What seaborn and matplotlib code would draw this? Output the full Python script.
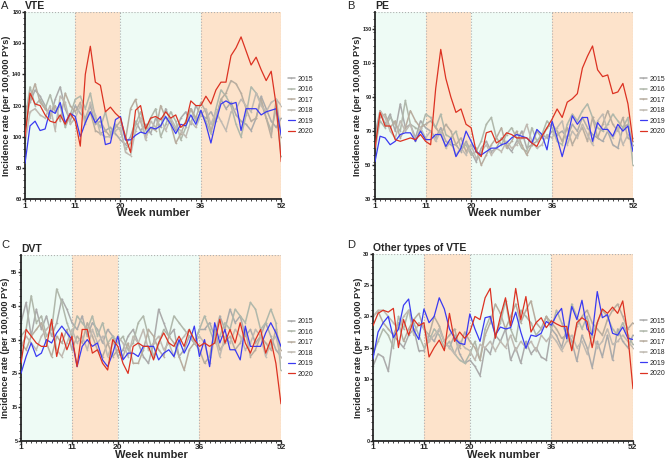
import numpy as np
import pandas as pd
import seaborn as sns
import matplotlib.pyplot as plt
from matplotlib.ticker import MultipleLocator

weeks = list(range(1, 53))
years = ['2015', '2016', '2017', '2018', '2019', '2020']
x_ticks = [1, 11, 20, 36, 52]

# Panel A - VTE
vte = {
    '2015': [118, 122, 130, 126, 120, 112, 124, 132, 118, 110, 120, 115, 112, 120, 108, 110, 104, 106, 102, 98,
             95, 100, 110, 104, 108, 102, 112, 106, 118, 110, 104, 112, 116, 108, 120, 114,
             112, 116, 110, 124, 118, 122, 114, 110, 108, 104, 112, 126, 118, 110, 106, 112],
    '2016': [110, 132, 120, 124, 118, 127, 116, 120, 106, 114, 124, 126, 118, 128, 112, 106, 116, 102, 108, 104,
             92, 96, 108, 116, 104, 112, 118, 100, 108, 116, 110, 98, 106, 118, 110, 116,
             110, 102, 118, 130, 126, 120, 108, 100, 114, 132, 128, 122, 112, 104, 118, 88],
    '2017': [104, 124, 134, 122, 118, 114, 120, 110, 128, 120, 116, 122, 110, 116, 104, 102, 104, 100, 106, 110,
             98, 118, 124, 110, 100, 106, 104, 120, 112, 108, 96, 102, 110, 118, 112, 122,
             116, 104, 112, 124, 128, 136, 134, 128, 118, 110, 112, 124, 112, 100, 124, 100],
    '2018': [96, 116, 118, 114, 112, 120, 104, 126, 122, 108, 112, 120, 108, 122, 114, 102, 100, 100, 104, 106,
             90, 88, 104, 112, 98, 110, 106, 112, 104, 112, 106, 104, 100, 110, 106, 114,
             118, 108, 116, 110, 104, 116, 118, 124, 120, 116, 128, 120, 116, 122, 124, 120],
    '2019': [83, 107, 110, 104, 105, 117, 115, 122, 109, 115, 113, 100, 109, 116, 109, 113, 95, 96, 111, 113,
             98, 98, 101, 103, 102, 106, 105, 107, 113, 108, 102, 108, 107, 114, 108, 117,
             108, 96, 110, 121, 123, 121, 122, 104, 118, 118, 118, 114, 116, 117, 118, 101],
    '2020': [100, 128, 121, 120, 114, 110, 109, 114, 108, 115, 110, 94, 140, 158, 135, 133, 116, 119, 115, 112,
             100, 90, 117, 120, 105, 112, 113, 111, 116, 112, 114, 106, 109, 123, 120, 120,
             126, 121, 130, 135, 135, 152, 157, 164, 155, 146, 151, 143, 136, 142, 120, 84],
}

# Panel B - PE
pe = {
    '2015': [68, 82, 74, 80, 70, 86, 72, 74, 66, 76, 72, 70, 66, 72, 64, 62, 62, 58, 64, 58,
             52, 60, 64, 58, 60, 66, 62, 58, 64, 70, 60, 62, 64, 68, 66, 70,
             68, 70, 66, 74, 70, 78, 72, 68, 66, 64, 70, 62, 60, 72, 74, 62],
    '2016': [60, 76, 72, 78, 74, 70, 88, 74, 72, 70, 80, 78, 72, 80, 68, 66, 70, 60, 62, 56,
             58, 64, 74, 78, 66, 62, 68, 72, 66, 60, 58, 72, 64, 68, 76, 72,
             64, 62, 74, 80, 76, 82, 86, 78, 72, 70, 74, 80, 76, 72, 78, 50],
    '2017': [64, 78, 80, 72, 76, 66, 72, 82, 76, 72, 74, 76, 72, 68, 74, 70, 62, 66, 58, 62,
             60, 50, 56, 62, 66, 72, 60, 64, 70, 62, 56, 62, 70, 66, 72, 74,
             70, 64, 72, 62, 68, 72, 64, 78, 66, 74, 82, 74, 70, 78, 66, 64],
    '2018': [56, 82, 78, 70, 66, 76, 70, 74, 64, 72, 66, 70, 64, 70, 60, 64, 56, 60, 56, 62,
             54, 58, 62, 56, 60, 58, 64, 60, 62, 66, 74, 64, 60, 62, 68, 66,
             72, 76, 62, 70, 66, 74, 68, 62, 76, 80, 70, 66, 72, 62, 68, 66],
    '2019': [52, 67, 66, 62, 64, 68, 69, 69, 64, 70, 65, 65, 68, 68, 61, 66, 55, 60, 70, 64,
             58, 56, 58, 60, 60, 62, 63, 66, 68, 67, 66, 63, 71, 68, 59, 76,
             66, 55, 66, 79, 74, 78, 78, 64, 75, 71, 71, 67, 74, 70, 73, 58],
    '2020': [60, 81, 73, 73, 65, 64, 65, 66, 65, 68, 64, 62, 95, 118, 101, 90, 81, 83, 74, 72,
             58, 55, 69, 70, 63, 65, 69, 68, 66, 66, 66, 63, 61, 67, 72, 77,
             83, 78, 87, 89, 92, 107, 114, 120, 106, 102, 103, 92, 93, 98, 86, 64],
}

# Panel C - DVT
dvt = {
    '2015': [40, 46, 36, 44, 38, 42, 36, 40, 47, 44, 40, 38, 42, 36, 40, 38, 34, 38, 36, 30,
             32, 36, 38, 34, 30, 28, 34, 44, 40, 36, 38, 30, 32, 36, 34, 38,
             38, 40, 36, 42, 38, 44, 40, 42, 36, 38, 34, 36, 40, 36, 32, 30],
    '2016': [36, 38, 48, 40, 42, 36, 38, 50, 46, 40, 36, 42, 40, 38, 42, 36, 40, 34, 36, 34,
             36, 32, 34, 40, 42, 36, 30, 34, 38, 36, 42, 40, 38, 36, 34, 38,
             42, 38, 34, 36, 40, 38, 44, 42, 40, 46, 44, 38, 40, 44, 40, 26],
    '2017': [34, 32, 36, 38, 40, 34, 30, 36, 34, 38, 32, 36, 34, 40, 36, 32, 30, 34, 30, 32,
             30, 34, 28, 28, 32, 38, 36, 32, 30, 36, 34, 30, 26, 32, 34, 32,
             28, 30, 38, 32, 34, 36, 32, 34, 38, 30, 32, 36, 34, 32, 38, 32],
    '2018': [33, 36, 34, 32, 36, 38, 40, 32, 30, 34, 38, 34, 36, 32, 38, 34, 36, 30, 34, 36,
             34, 30, 36, 34, 38, 32, 34, 36, 32, 34, 30, 34, 36, 38, 34, 36,
             34, 28, 36, 30, 36, 34, 38, 36, 32, 34, 38, 36, 30, 34, 36, 30],
    '2019': [25, 30, 34, 30, 31, 35, 34, 37, 39, 37, 35, 27, 33, 35, 33, 34, 29, 27, 31, 36,
             29, 31, 31, 30, 33, 33, 33, 29, 31, 32, 30, 35, 31, 34, 39, 30,
             35, 27, 40, 34, 38, 32, 32, 29, 39, 33, 33, 33, 37, 40, 37, 33],
    '2020': [28, 38, 36, 34, 33, 33, 41, 30, 37, 32, 36, 27, 38, 38, 31, 32, 28, 26, 35, 33,
             28, 25, 33, 34, 33, 33, 29, 34, 37, 34, 33, 36, 33, 38, 35, 33,
             34, 33, 34, 41, 34, 38, 34, 40, 34, 31, 35, 38, 31, 35, 28, 16],
}

# Panel D - other types of VTE
other = {
    '2015': [12, 14, 13.5, 11.2, 17, 16, 15, 17, 18, 14.5, 14.5, 17, 16, 18, 16, 15, 17, 14, 12.5, 13,
             12, 10.5, 15, 14, 17, 16, 18, 13, 15, 12.5, 16, 14, 15, 13.5, 13, 18,
             17, 15, 18, 16, 12.8, 17, 15, 11.8, 16, 13.5, 17, 13, 18, 16, 15, 17],
    '2016': [14, 16, 18, 17, 15, 20, 18, 21, 19, 17, 15, 16, 18, 17, 15, 16, 14, 13, 12.5, 14,
             16, 13, 18, 20, 17, 19, 22.5, 18, 16, 21, 20, 19, 17, 18, 20, 18,
             21, 19, 17, 22, 20, 18, 20, 17, 19, 21, 20, 18, 17, 19, 17, 15.5],
    '2017': [20, 20.8, 19, 18, 17, 19, 16, 18, 19.5, 20.5, 18, 17, 20, 18.5, 16, 17, 18, 15, 17.5, 16,
             15, 13, 17, 19, 22, 20.5, 18, 20, 22, 19, 21, 22.5, 19, 18, 20, 19,
             18, 16.5, 17, 15, 18.5, 20, 21, 19, 18, 17, 19.5, 21, 22, 20, 18, 19],
    '2018': [20, 21, 21, 20, 19, 18, 20, 21, 17, 19, 18, 16, 17, 18, 16, 15, 14, 16, 15, 14.5,
             13, 15.5, 15, 16, 14.5, 16, 15, 17, 14.5, 16, 15, 16, 14.5, 17, 16, 17,
             16, 14.5, 16, 17, 15, 16, 14, 17, 15, 16, 18, 15.5, 16, 17, 16, 15],
    '2019': [13.2, 17.5, 19, 20, 16.6, 18, 21.8, 22.8, 17.8, 16.3, 21.2, 19, 20, 23, 21.2, 18, 16.5, 15.7, 15.5, 20.4,
             18, 16, 19.8, 20, 17, 18.3, 18, 18.2, 20.7, 17.5, 14.9, 17, 16.8, 17.3, 19.2, 18.6,
             20.2, 21.3, 16.4, 21.6, 19.5, 22.6, 18, 17, 24, 19.8, 20.3, 17.3, 17, 18.3, 16.5, 16.3],
    '2020': [18.5, 20.5, 21, 20.7, 21.3, 15, 19.5, 17, 19.5, 18.5, 19, 13.5, 15, 16.2, 14.5, 20.5, 16, 17.5, 16.5, 17.5,
             20, 19.5, 23, 24.5, 16.5, 20, 23, 18.5, 24.5, 19.5, 23.2, 17.5, 19, 19.8, 18.2, 19.3,
             18.8, 18.4, 18.4, 14.5, 19, 19.8, 19.2, 15, 19, 21.2, 20.5, 21.5, 20.5, 22.5, 17, 8.4],
}

colors = {'2015': '#ababab', '2016': '#b0b8ab', '2017': '#b8ad9f', '2018': '#c0bab2',
          '2019': '#3a3af2', '2020': '#dc3222'}
mint = '#eefbf5'
peach = '#fde3cb'

panels = [
    ('A', 'VTE', vte, (60, 180), [60, 80, 100, 120, 140, 160, 180], [0.0374, 0.566, 0.383, 0.408]),
    ('B', 'PE', pe, (30, 140), [30, 50, 70, 90, 110, 130], [0.5605, 0.566, 0.3857, 0.408]),
    ('C', 'DVT', dvt, (5, 60), [5, 15, 25, 35, 45, 55], [0.0314, 0.0392, 0.3886, 0.405]),
    ('D', 'Other types of VTE', other, (0, 30), [0, 5, 10, 15, 20, 25, 30], [0.5575, 0.0392, 0.3886, 0.407]),
]
letter_pos = {'A': (0.002, 0.998), 'B': (0.519, 0.998), 'C': (0.002, 0.478), 'D': (0.519, 0.478)}

sns.set_style('ticks')
plt.rcParams['font.family'] = ['Liberation Sans', 'DejaVu Sans']

fig = plt.figure(figsize=(6.69, 4.59), dpi=100)

for letter, title, data, ylim, yticks, pos in panels:
    ax = fig.add_axes(pos)
    ax.axvspan(1, 11, color=mint, lw=0, zorder=0)
    ax.axvspan(11, 20, color=peach, lw=0, zorder=0)
    ax.axvspan(20, 36, color=mint, lw=0, zorder=0)
    ax.axvspan(36, 52, color=peach, lw=0, zorder=0)
    for xv in [11, 20, 36, 52]:
        ax.axvline(xv, color='#b0b0b0', ls=':', lw=0.8, zorder=1)
    ax.axhline(ylim[1], color='#b0b0b0', ls=':', lw=0.8, zorder=1)

    df = pd.DataFrame({'week': weeks * 6,
                       'rate': sum([data[y] for y in years], []),
                       'year': np.repeat(years, 52)})
    for y in years:
        sub = df[df['year'] == y]
        grey = y not in ('2019', '2020')
        sns.lineplot(data=sub, x='week', y='rate', ax=ax, color=colors[y],
                     lw=1.1 if grey else 0.9, label=y,
                     marker='.' if grey else None, markersize=2.5,
                     markeredgewidth=0, zorder=2 if grey else 3)

    ax.set_xlim(1, 52)
    ax.set_ylim(*ylim)
    ax.set_xticks(x_ticks)
    ax.set_yticks(yticks)
    ax.xaxis.set_minor_locator(MultipleLocator(1))
    step = yticks[1] - yticks[0]
    ax.yaxis.set_minor_locator(MultipleLocator(step / 5))
    ax.tick_params(axis='x', labelsize=6, length=2, width=1, pad=0.5)
    ax.tick_params(axis='y', labelsize=4, length=2, width=1, pad=0.5)
    ax.tick_params(which='minor', length=1.3, width=0.6)
    for lab in ax.get_xticklabels() + ax.get_yticklabels():
        lab.set_fontweight('bold')
    sns.despine(ax=ax)
    ax.spines['left'].set_linewidth(1.3)
    ax.spines['bottom'].set_linewidth(1.3)
    ax.set_xlabel('Week number', fontsize=8, fontweight='bold', labelpad=-1)
    ax.set_ylabel('Incidence rate (per 100,000 PYs)', fontsize=6.6, fontweight='bold', labelpad=0.5)
    ax.set_title(title, loc='left', fontsize=7.5, fontweight='bold', pad=2)
    ax.legend(loc='center left', bbox_to_anchor=(1.01, 0.5), frameon=False,
              fontsize=5, handlelength=1.0, labelspacing=0.5, handletextpad=0.4,
              borderaxespad=0.2)
    lx, ly = letter_pos[letter]
    fig.text(lx, ly, letter, fontsize=8, va='top', ha='left')

fig.savefig('out.png', dpi=100)
